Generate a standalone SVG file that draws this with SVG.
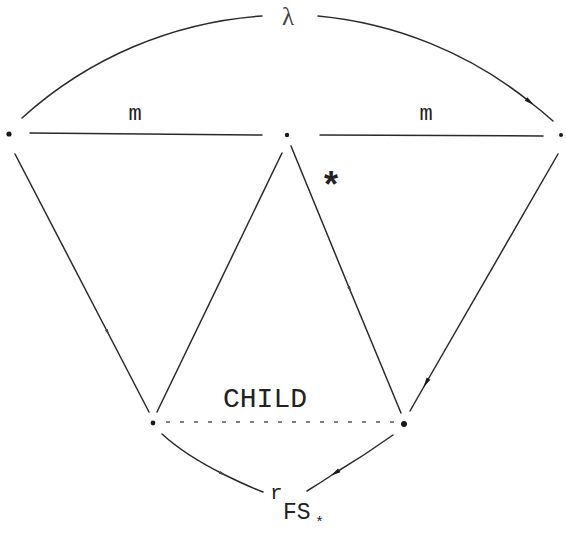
<svg xmlns="http://www.w3.org/2000/svg" width="566" height="533" viewBox="0 0 566 533">
<style>
.ln{fill:none;stroke:#2a2a2a;stroke-width:1.5;stroke-linecap:round}
.dash{fill:none;stroke:#555;stroke-width:1.6;stroke-dasharray:4 10}
.dot{fill:#1a1a1a}
.tw{font-family:"Liberation Mono","DejaVu Sans Mono",monospace;fill:#222}
.gr{font-family:"Liberation Serif","DejaVu Serif",serif;fill:#444}
</style>
<defs>
<marker id="ah" viewBox="0 0 10 6" refX="5" refY="3" markerWidth="12" markerHeight="6" markerUnits="userSpaceOnUse" orient="auto">
<path d="M0,0.8 L10,3 L0,5.2 Z" fill="#1a1a1a"/>
</marker>
<marker id="ahs" viewBox="0 0 10 6" refX="5" refY="3" markerWidth="8" markerHeight="4.5" markerUnits="userSpaceOnUse" orient="auto">
<path d="M0,1 L10,3 L0,5 Z" fill="#444"/>
</marker>
</defs>
<g id="connectors">
<path class="ln" d="M22,118 A397.6,397.6 0 0 1 262,16"/>
<path class="ln" d="M318,16 A397.6,397.6 0 0 1 530,102 A397.6,397.6 0 0 1 553,121" marker-mid="url(#ah)"/>
<path class="ln" d="M30,133 L262,135"/>
<path class="ln" d="M320,135 L543,136"/>
<path class="ln" d="M15,154 L108,333 L149,412" marker-mid="url(#ahs)"/>
<path class="ln" d="M282,153 L157,412"/>
<path class="ln" d="M291,146 L350,290 L401,413" marker-mid="url(#ahs)"/>
<path class="ln" d="M558,154 L426,383 L410,411" marker-mid="url(#ah)"/>
<path class="dash" d="M166,422 L398,422"/>
<path class="ln" d="M162,434 Q185,455 223,474 Q245,485 263,492" marker-mid="url(#ahs)"/>
<path class="ln" d="M393,435 Q365,455 335,473 Q320,483 307,491" marker-mid="url(#ah)"/>
</g>
<g id="node-left"><circle class="dot" cx="9" cy="134" r="2.6"/></g>
<g id="node-center"><circle class="dot" cx="287" cy="135" r="2.2"/></g>
<g id="node-right"><circle class="dot" cx="561" cy="135" r="2"/></g>
<g id="node-bottom-left"><circle class="dot" cx="153" cy="423" r="2.4"/></g>
<g id="node-bottom-right"><circle class="dot" cx="404" cy="424" r="3"/></g>
<g id="labels">
<text class="gr" x="288" y="25" font-size="25" text-anchor="middle">λ</text>
<text class="tw" x="135" y="120" font-size="22" text-anchor="middle">m</text>
<text class="tw" x="426" y="120" font-size="22" text-anchor="middle">m</text>
<text class="tw" x="331" y="198" font-size="36" font-weight="bold" text-anchor="middle">*</text>
<text class="tw" x="265" y="407" font-size="27" text-anchor="middle" textLength="84" lengthAdjust="spacingAndGlyphs">CHILD</text>
<text class="tw" x="270" y="499" font-size="21">r</text>
<text class="tw" x="283" y="519" font-size="23">FS</text>
<text class="tw" x="315" y="527" font-size="15">*</text>
</g>
</svg>
